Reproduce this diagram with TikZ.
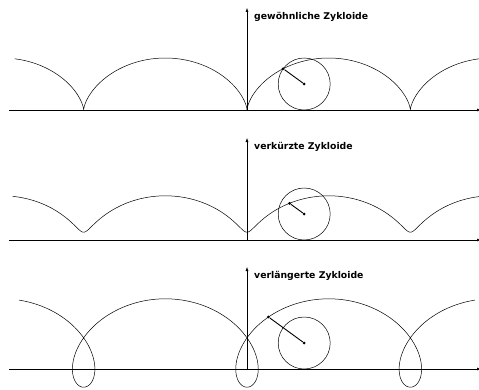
\documentclass[tikz,border=0pt]{standalone}
\usepackage{fontspec}
\setsansfont{DejaVu Sans}
\usetikzlibrary{arrows.meta}

\begin{document}
\begin{tikzpicture}[x=1pt, y=1pt, >={Latex[length=4pt, width=3pt]},
    axis/.style={line width=0.5pt, ->},
    curve/.style={line width=0.5pt},
    wheel/.style={circle, draw, line width=0.5pt, minimum size=52pt, inner sep=0pt},
    spoke/.style={line width=0.9pt},
    dot/.style={circle, fill, inner sep=0pt, minimum size=3pt},
    title/.style={anchor=west, inner sep=0pt, font=\sffamily\bfseries\fontsize{9.3}{11}\selectfont}]
  \useasboundingbox (0,0) rectangle (479,389);
  \foreach \n/\y/\d/\txt in {g/279/26/gewöhnliche Zykloide, v/149/18.2/verkürzte Zykloide, l/20/44.2/verlängerte Zykloide} {
    \begin{scope}[shift={(247,\y)}]
      \coordinate (O\n) at (0,0);
      \coordinate (L\n) at (-238,0);
      \coordinate (R\n) at (234,0);
      \coordinate (T\n) at (0,102);
      \draw[axis] (L\n) -- (R\n);
      \draw[axis] (O\n) -- (T\n);
      \node[title] (N\n) at (7,93) {\txt};
      \draw[curve] plot[domain=-9.18:9.18, samples=240, smooth, variable=\t]
        ({26*\t - \d*sin(\t r)}, {26 - \d*cos(\t r)});
      \node[wheel] (W\n) at (57.2,26) {};
      \node[dot] (M\n) at (W\n.center) {};
      \node[dot] (P\n) at ({57.2 - \d*sin(2.2 r)}, {26 - \d*cos(2.2 r)}) {};
      \draw[spoke] (P\n) -- (M\n);
    \end{scope}
  }
\end{tikzpicture}
\end{document}
